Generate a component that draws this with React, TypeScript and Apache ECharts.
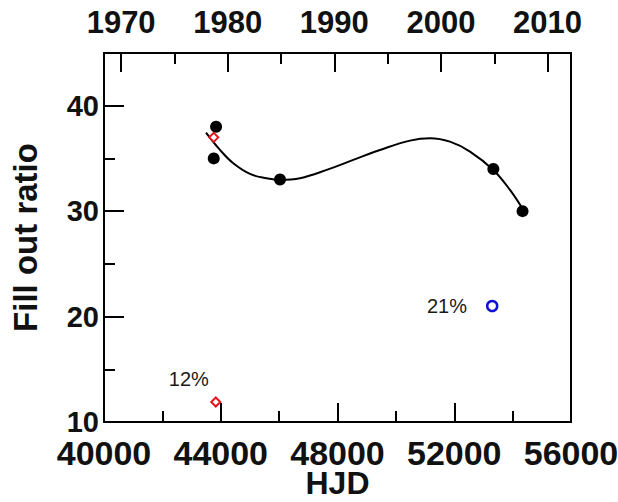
import React, { useEffect, useRef } from "react";
import * as echarts from "echarts";

// Filled black points (HJD, fill-out ratio %)
const solidX = [43840, 43760, 46030, 53340, 54340];
const solidY = [38.0, 35.0, 33.0, 34.0, 30.0];
// Open red diamonds
const diamondX = [43760, 43830];
const diamondY = [37.0, 11.9];
const diamondLabels = ["", "12%"];
// Open blue circle
const circleX = [53300];
const circleY = [21.0];
const circleLabels = ["21%"];
// Fitted curve
const fitX = [43495, 43974, 44430, 45002, 45574, 46029, 46715, 47630, 48541, 49456, 50484, 51169, 51854, 52539, 53338, 53910, 54365];
const fitY = [37.45, 35.81, 34.54, 33.53, 33.12, 32.96, 33.12, 33.91, 34.86, 35.8, 36.69, 36.92, 36.59, 35.65, 33.91, 32.01, 30.11];
// Ticks
const hjdMajor = [40000, 44000, 48000, 52000, 56000];
const hjdMinor = [42000, 46000, 50000, 54000];
const yearMajor = [1970, 1980, 1990, 2000, 2010];
const yearMinor = [1975, 1985, 1995, 2005];
const yMajor = [10, 20, 30, 40];
const yMinor = [15, 25, 35];

const HJD_MIN = 40000;
const HJD_MAX = 56000;
const Y_MIN = 10;
const Y_MAX = 45;
const toYear = (h: number) => 2000 + (h - 51544.5) / 365.25;

const FONT = "'Liberation Sans', Arial, Helvetica, sans-serif";

const mkLine = () => ({ color: "#000", width: 2 });
const plain = (v: number) => String(Math.round(v));

export default function App() {
  const ref = useRef<HTMLDivElement>(null);
  useEffect(() => {
    if (!ref.current) return;
    const chart = echarts.init(ref.current, null, { renderer: "svg" });
    chart.setOption({
      animation: false,
      backgroundColor: "#fff",
      grid: { left: 104, right: 47, top: 53, bottom: 80, show: false, containLabel: false, outerBoundsMode: "none" },
      xAxis: [
        {
          type: "value", position: "bottom", min: HJD_MIN, max: HJD_MAX,
          axisLine: { show: true, lineStyle: mkLine() },
          axisTick: { show: true, inside: true, length: 19, lineStyle: mkLine(), customValues: hjdMajor },
          axisLabel: { show: true, customValues: hjdMajor, formatter: plain, margin: 14, hideOverlap: false,
            showMinLabel: true, showMaxLabel: true,
            fontFamily: FONT, fontWeight: "bold", fontSize: 34, color: "#111" },
          splitLine: { show: false },
          name: "HJD", nameLocation: "middle", nameGap: 45, nameMoveOverlap: false,
          nameTextStyle: { fontFamily: FONT, fontWeight: "bold", fontSize: 32, color: "#111", lineHeight: 32 },
        },
        {
          type: "value", position: "bottom", min: HJD_MIN, max: HJD_MAX,
          axisLine: { show: false }, axisLabel: { show: false }, splitLine: { show: false },
          axisTick: { show: true, inside: true, length: 11, lineStyle: mkLine(), customValues: hjdMinor },
        },
        {
          type: "value", position: "top", min: toYear(HJD_MIN), max: toYear(HJD_MAX),
          axisLine: { show: true, lineStyle: mkLine() },
          axisTick: { show: true, inside: true, length: 19, lineStyle: mkLine(), customValues: yearMajor },
          axisLabel: { show: true, customValues: yearMajor, formatter: plain, margin: 15, hideOverlap: false,
            fontFamily: FONT, fontWeight: "bold", fontSize: 31, color: "#111" },
          splitLine: { show: false },
        },
        {
          type: "value", position: "top", min: toYear(HJD_MIN), max: toYear(HJD_MAX),
          axisLine: { show: false }, axisLabel: { show: false }, splitLine: { show: false },
          axisTick: { show: true, inside: true, length: 11, lineStyle: mkLine(), customValues: yearMinor },
        },
      ],
      yAxis: [
        {
          type: "value", position: "left", min: Y_MIN, max: Y_MAX,
          axisLine: { show: true, lineStyle: mkLine() },
          axisTick: { show: true, inside: true, length: 20, lineStyle: mkLine(), customValues: yMajor },
          axisLabel: { show: true, customValues: yMajor, formatter: plain, margin: 5, hideOverlap: false,
            fontFamily: FONT, fontWeight: "bold", fontSize: 29, color: "#111" },
          splitLine: { show: false },
          name: "Fill out ratio", nameLocation: "middle", nameGap: 62, nameRotate: 90, nameMoveOverlap: false,
          nameTextStyle: { fontFamily: FONT, fontWeight: "bold", fontSize: 33, color: "#111" },
        },
        {
          type: "value", position: "left", min: Y_MIN, max: Y_MAX,
          axisLine: { show: false }, axisLabel: { show: false }, splitLine: { show: false },
          axisTick: { show: true, inside: true, length: 11, lineStyle: mkLine(), customValues: yMinor },
        },
        {
          type: "value", position: "right", min: Y_MIN, max: Y_MAX,
          axisLine: { show: true, lineStyle: mkLine() },
          axisTick: { show: false }, axisLabel: { show: false }, splitLine: { show: false },
        },
      ],
      series: [
        {
          type: "line", xAxisIndex: 0, yAxisIndex: 0,
          data: fitX.map((x, i) => [x, fitY[i]]),
          smooth: 0.4, showSymbol: false, symbol: "none",
          lineStyle: { color: "#000", width: 2 },
          z: 2,
        },
        {
          type: "scatter", xAxisIndex: 0, yAxisIndex: 0,
          data: solidX.map((x, i) => [x, solidY[i]]),
          symbol: "circle", symbolSize: 12,
          itemStyle: { color: "#000", opacity: 1 },
          z: 3,
        },
        {
          type: "scatter", xAxisIndex: 0, yAxisIndex: 0,
          data: diamondX.map((x, i) => ({ value: [x, diamondY[i]], name: diamondLabels[i] })),
          symbol: "diamond", symbolSize: 9,
          itemStyle: { color: "#fff", borderColor: "#e8141c", borderWidth: 2, opacity: 1 },
          label: {
            show: true, formatter: (p: any) => p.name, position: "top", offset: [-27, -2],
            fontFamily: FONT, fontSize: 20, color: "#1a1a1a",
          },
          z: 4,
        },
        {
          type: "scatter", xAxisIndex: 0, yAxisIndex: 0,
          data: circleX.map((x, i) => ({ value: [x, circleY[i]], name: circleLabels[i] })),
          symbol: "circle", symbolSize: 10,
          itemStyle: { color: "#fff", borderColor: "#1010d0", borderWidth: 2.5, opacity: 1 },
          label: {
            show: true, formatter: (p: any) => p.name, position: "left", distance: 19,
            fontFamily: FONT, fontSize: 20, color: "#1a1a1a",
          },
          z: 4,
        },
      ],
    });
    return () => chart.dispose();
  }, []);
  return <div ref={ref} style={{ position: "fixed", left: 0, top: 0, width: 618, height: 502 }} />;
}
